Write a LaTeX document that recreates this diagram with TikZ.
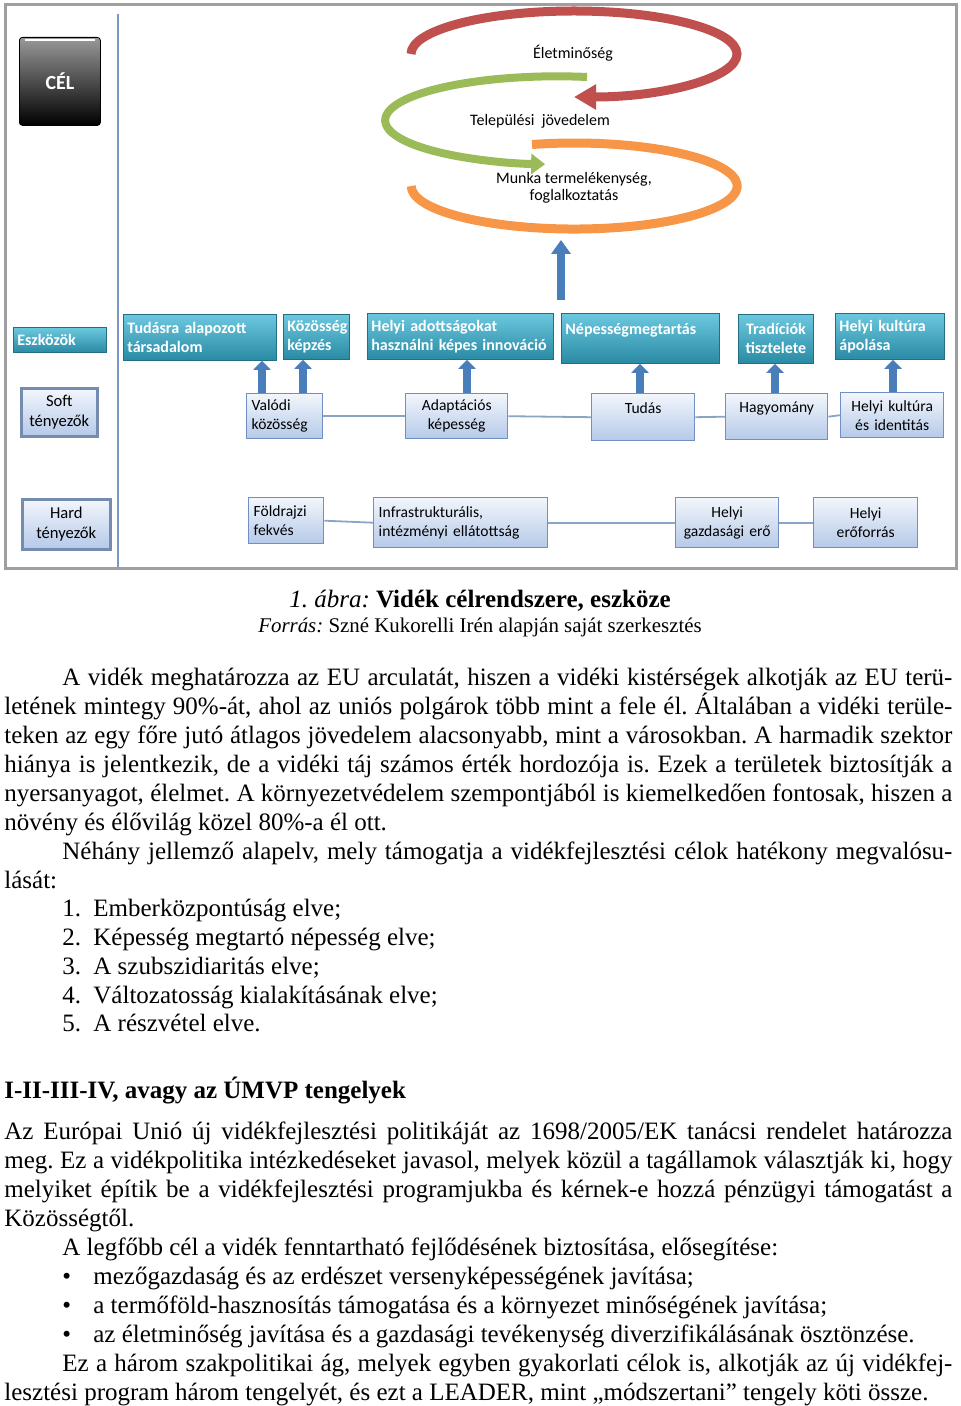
\documentclass[tikz,border=0pt]{standalone}
\usepackage{fontspec}
\setmainfont{Liberation Serif}
\newfontfamily\diafont{Carlito}
\usetikzlibrary{arrows.meta}
\definecolor{tealtop}{HTML}{6BC8DF}
\definecolor{tealbot}{HTML}{2A8AA4}
\definecolor{boxtop}{HTML}{F2F6FC}
\definecolor{boxbot}{HTML}{B5C9E8}
\definecolor{boxline}{HTML}{7090C4}
\definecolor{linkc}{HTML}{8CA3C8}
\definecolor{arrblue}{HTML}{4A7EBB}
\definecolor{arcred}{HTML}{C0504D}
\definecolor{arcgreen}{HTML}{9BBB59}
\definecolor{arcorange}{HTML}{F79646}
\definecolor{sepline}{HTML}{7B96C8}
\newcommand\jline[2]{\makebox[#1][s]{#2}}
\frenchspacing
\begin{document}
\begin{tikzpicture}[x=0.5pt,y=-0.5pt,
  goal/.style={anchor=north west,rounded corners=1.5pt,top color=gray!80,bottom color=black,draw=black,text=white,font=\diafont\bfseries\fontsize{10}{12}\selectfont},
  tealbox/.style={anchor=north west,top color=tealtop,bottom color=tealbot,draw=tealbot!80!black,line width=0.4pt,text=white,align=left,inner xsep=2pt,inner ysep=1pt,font=\diafont\bfseries\fontsize{8}{9.5}\selectfont},
  softbox/.style={anchor=north west,top color=boxtop,bottom color=boxbot,draw=boxline,line width=0.7pt,align=left,inner xsep=2.5pt,inner ysep=1pt,font=\diafont\fontsize{7.8}{9.5}\selectfont},
  factorbox/.style={softbox,line width=1.3pt,draw=boxline!70!gray,align=center,font=\diafont\fontsize{8.3}{9.8}\selectfont},
  link/.style={draw=linkc,line width=0.9pt},
  uparr/.style={draw=arrblue,line width=4pt,-{Triangle[length=4.5pt,width=8.5pt]}},
  arclabel/.style={font=\diafont\fontsize{8}{8.5}\selectfont,align=center},
  body/.style={anchor=base west,inner sep=0pt,font=\fontsize{12.5}{14.5}\selectfont}]
\useasboundingbox (0,0) rectangle (960,1406);
%Keret
\draw[gray!75,line width=1.5pt] (5,5) rectangle (956,568);
\draw[sepline,line width=0.6pt] (118,14) -- (118,567);
%Cel
\node[goal,minimum width=40.5pt,minimum height=44pt] (cel) at (19,37) {CÉL};
\draw[white,line width=0.8pt] ([xshift=3pt,yshift=-1.5pt]cel.north west) -- ([xshift=-3pt,yshift=-1.5pt]cel.north east);
%Ivek
\draw[arcorange,line width=4.5pt] (532,144.5) arc[start angle=255,end angle=540,x radius=163,y radius=43];
\draw[arcgreen,line width=4pt,-{Triangle[length=7pt,width=10pt]}] (587,77) arc[start angle=280,end angle=94,x radius=172,y radius=44];
\draw[arcred,line width=4.5pt,-{Triangle[length=11pt,width=12pt]}] (411,54) arc[start angle=180,end angle=450,x radius=163,y radius=43];
\node[arclabel] (elet) at (573,53) {Életminőség};
\node[arclabel] (telep) at (540,121) {Települési~ jövedelem};
\node[arclabel] (munka) at (574,188) {Munka termelékenység,\\foglalkoztatás};
\coordinate (eszk) at (561,300);
\coordinate (celpt) at (561,240);
\draw[uparr,-{Triangle[length=7pt,width=9.5pt]}] (eszk) -- (celpt);
%Eszkozok
\node[tealbox,minimum width=46.5pt,minimum height=12.5pt,text width=42.5pt] (eszkozok) at (13,327) {Eszközök};
\node[tealbox,minimum width=76.5pt,minimum height=23pt,text width=72.5pt] (tudasra) at (123,314) {Tudásra alapozott\\társadalom};
\node[tealbox,minimum width=33pt,minimum height=22.5pt,text width=29pt] (kozosseg) at (283,314) {Közösség\\képzés};
\node[tealbox,minimum width=93pt,minimum height=23pt,text width=89pt] (innov) at (367,313) {Helyi adottságokat\\használni képes innováció};
\node[tealbox,minimum width=79pt,minimum height=25pt,text width=75pt] (nepesseg) at (561,313) {Népességmegtartás\\\mbox{}};
\node[tealbox,minimum width=37.5pt,minimum height=24.5pt,text width=33.5pt,align=center] (tradicio) at (738,314) {Tradíciók\\tisztelete};
\node[tealbox,minimum width=54.5pt,minimum height=23pt,text width=50.5pt] (apolas) at (835,313) {Helyi kultúra\\ápolása};
%Soft
\node[factorbox,minimum width=38pt,minimum height=24pt,text width=33pt] (soft) at (20,387) {Soft\\tényezők};
\node[softbox,minimum width=38pt,minimum height=22.5pt,text width=33pt] (valodi) at (246,393) {Valódi\\közösség};
\node[softbox,minimum width=51pt,minimum height=22.5pt,text width=46pt,align=center] (adapt) at (405,393) {Adaptációs\\képesség};
\node[softbox,minimum width=51.5pt,minimum height=23.5pt,text width=46.5pt,align=center] (tudas) at (591,393) {Tudás\\\mbox{}};
\node[softbox,minimum width=51pt,minimum height=23pt,text width=46pt,align=center] (hagyomany) at (725,393) {Hagyomány\\\mbox{}};
\node[softbox,minimum width=51.5pt,minimum height=22.5pt,text width=46.5pt,align=center] (kultura) at (840,392) {Helyi kultúra\\és identitás};
\draw[link] (valodi.east) -- (adapt.west);
\draw[link] (adapt.east) -- (tudas.west);
\draw[link] (tudas.east) -- (hagyomany.west);
\draw[link] (hagyomany.east) -- (kultura.west);
\coordinate (a1) at (262,0);
\coordinate (a2) at (303,0);
\coordinate (a3) at (467,0);
\coordinate (a4) at (640,0);
\coordinate (a5) at (775,0);
\coordinate (a6) at (893,0);
\draw[uparr] (valodi.north -| a1) -- (tudasra.south -| a1);
\draw[uparr] (valodi.north -| a2) -- (kozosseg.south -| a2);
\draw[uparr] (adapt.north -| a3) -- (innov.south -| a3);
\draw[uparr] (tudas.north -| a4) -- (nepesseg.south -| a4);
\draw[uparr] (hagyomany.north -| a5) -- (tradicio.south -| a5);
\draw[uparr] (kultura.north -| a6) -- (apolas.south -| a6);
%Hard
\node[factorbox,minimum width=44pt,minimum height=25pt,text width=39pt] (hard) at (21,498) {Hard\\tényezők};
\node[softbox,minimum width=37.5pt,minimum height=23pt,text width=32.5pt] (foldrajzi) at (248,497) {Földrajzi\\fekvés};
\node[softbox,minimum width=87pt,minimum height=25pt,text width=82pt] (infra) at (373,497) {Infrastrukturális,\\intézményi ellátottság};
\node[softbox,minimum width=51.5pt,minimum height=25pt,text width=46.5pt,align=center] (gazdasagi) at (675,497) {Helyi\\gazdasági erő};
\node[softbox,minimum width=52pt,minimum height=25pt,text width=47pt,align=center] (eroforras) at (813,497) {Helyi\\erőforrás};
\draw[link] (foldrajzi.east) -- (infra.west);
\draw[link] (infra.east) -- (gazdasagi.west);
\draw[link] (gazdasagi.east) -- (eroforras.west);
%Abra cim
\node[body,anchor=base] (abra) at (480,607) {\textit{1. ábra:} \textbf{Vidék célrendszere, eszköze}};
\node[body,anchor=base,font=\fontsize{10.45}{12}\selectfont] (forras) at (480,632) {\textit{Forrás:} Szné Kukorelli Irén alapján saját szerkesztés};
%Szoveg
\node[body] (p1a) at (62,685) {\jline{445pt}{A vidék meghatározza az EU arculatát, hiszen a vidéki kistérségek alkotják az EU terü-}};
\node[body] (p1b) at (4,714) {\jline{474pt}{letének mintegy 90\%-át, ahol az uniós polgárok több mint a fele él. Általában a vidéki terüle-}};
\node[body] (p1c) at (4,743) {\jline{474pt}{teken az egy főre jutó átlagos jövedelem alacsonyabb, mint a városokban. A harmadik szektor}};
\node[body] (p1d) at (4,772) {\jline{474pt}{hiánya is jelentkezik, de a vidéki táj számos érték hordozója is. Ezek a területek biztosítják a}};
\node[body] (p1e) at (4,801) {\jline{474pt}{nyersanyagot, élelmet. A környezetvédelem szempontjából is kiemelkedően fontosak, hiszen a}};
\node[body] (p1f) at (4,830) {növény és élővilág közel 80\%-a él ott.};
\node[body] (p2a) at (62,859) {\jline{445pt}{Néhány jellemző alapelv, mely támogatja a vidékfejlesztési célok hatékony megvalósu-}};
\node[body] (p2b) at (4,888) {lását:};
\node[body] (l1) at (62,916) {\makebox[15.5pt][l]{1.}Emberközpontúság elve;};
\node[body] (l2) at (62,945) {\makebox[15.5pt][l]{2.}Képesség megtartó népesség elve;};
\node[body] (l3) at (62,974) {\makebox[15.5pt][l]{3.}A szubszidiaritás elve;};
\node[body] (l4) at (62,1003) {\makebox[15.5pt][l]{4.}Változatosság kialakításának elve;};
\node[body] (l5) at (62,1031) {\makebox[15.5pt][l]{5.}A részvétel elve.};
\node[body] (cim) at (4,1098) {\textbf{I-II-III-IV, avagy az ÚMVP tengelyek}};
\node[body] (p3a) at (4,1139) {\jline{474pt}{Az Európai Unió új vidékfejlesztési politikáját az 1698/2005/EK tanácsi rendelet határozza}};
\node[body] (p3b) at (4,1168) {\jline{474pt}{meg. Ez a vidékpolitika intézkedéseket javasol, melyek közül a tagállamok választják ki, hogy}};
\node[body] (p3c) at (4,1197) {\jline{474pt}{melyiket építik be a vidékfejlesztési programjukba és kérnek-e hozzá pénzügyi támogatást a}};
\node[body] (p3d) at (4,1226) {Közösségtől.};
\node[body] (p4a) at (62,1255) {A legfőbb cél a vidék fenntartható fejlődésének biztosítása, elősegítése:};
\node[body] (b1) at (62,1284) {\makebox[15.5pt][l]{\textbullet}mezőgazdaság és az erdészet versenyképességének javítása;};
\node[body] (b2) at (62,1313) {\makebox[15.5pt][l]{\textbullet}a termőföld-hasznosítás támogatása és a környezet minőségének javítása;};
\node[body] (b3) at (62,1342) {\makebox[15.5pt][l]{\textbullet}az életminőség javítása és a gazdasági tevékenység diverzifikálásának ösztönzése.};
\node[body] (p5a) at (62,1371) {\jline{445pt}{Ez a három szakpolitikai ág, melyek egyben gyakorlati célok is, alkotják az új vidékfej-}};
\node[body] (p5b) at (4,1400) {lesztési program három tengelyét, és ezt a LEADER, mint „módszertani” tengely köti össze.};
\end{tikzpicture}
\end{document}
